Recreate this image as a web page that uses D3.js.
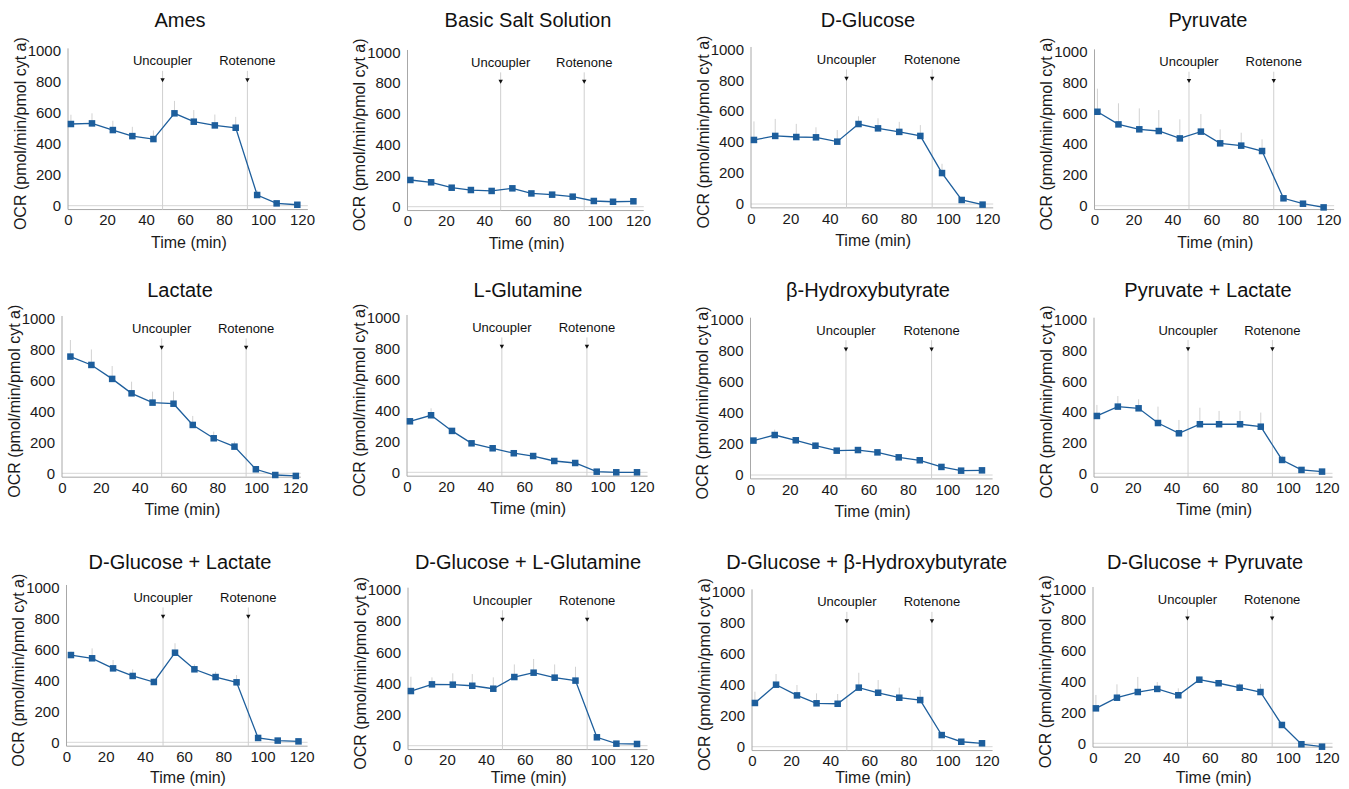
<!DOCTYPE html>
<html><head><meta charset="utf-8">
<script src="https://cdn.jsdelivr.net/npm/d3@7"></script>
<style>body{margin:0;background:#fff}svg{display:block}text{font-family:"Liberation Sans",Arial,sans-serif}</style>
</head><body><svg id="c" width="1349" height="789"></svg>
<script>
// ---------- data ----------
const titles = ["Ames","Basic Salt Solution","D-Glucose","Pyruvate","Lactate","L-Glutamine","β-Hydroxybutyrate","Pyruvate + Lactate","D-Glucose + Lactate","D-Glucose + L-Glutamine","D-Glucose + β-Hydroxybutyrate","D-Glucose + Pyruvate"];
const times = [1.5, 12.3, 23, 33, 43.8, 54.6, 64.5, 75.3, 86, 97, 107, 117.6];
const injections = [{label:"Uncoupler", t:48.5},{label:"Rotenone", t:92}];
const xTicks = [0,20,40,60,80,100,120];
const yTicks = [0,200,400,600,800,1000];

const amesOCR    = [527,531,488,449,430,596,542,518,503,69,15,6];
const amesErr    = [60,65,60,60,55,80,75,70,70,30,10,10];
const basicOCR   = [173,158,123,108,102,119,86,78,65,37,32,35];
const basicErr   = [15,10,10,10,10,10,10,8,8,5,5,5];
const glcOCR     = [414,440,433,431,403,517,489,466,440,200,26,-4];
const glcErr     = [120,110,85,65,75,50,65,65,70,60,20,10];
const pyrOCR     = [610,528,496,485,437,481,405,390,355,48,13,-11];
const pyrErr     = [150,137,136,136,124,114,91,84,76,20,10,5];
const lacOCR     = [753,699,609,516,456,449,312,226,172,26,-11,-17];
const lacErr     = [107,100,83,75,71,78,58,43,32,10,5,5];
const glnOCR     = [329,368,267,187,155,123,105,73,60,4,0,0];
const glnErr     = [20,45,15,10,10,10,10,8,8,5,5,5];
const bhbOCR     = [222,258,224,189,157,161,146,114,95,52,28,30];
const bhbErr     = [15,35,15,20,10,10,10,10,10,5,5,5];
const pyrLacOCR  = [374,435,424,328,261,320,320,320,304,87,22,11];
const pyrLacErr  = [72,69,59,107,87,108,87,87,92,30,10,5];
const glcLacOCR  = [563,542,477,428,389,578,471,421,387,28,11,6];
const glcLacErr  = [22,64,54,43,24,61,32,34,47,10,5,5];
const glcGlnOCR  = [351,394,392,385,366,441,469,437,418,54,13,11];
const glcGlnErr  = [92,45,73,75,73,81,88,85,89,15,5,5];
const glcBhbOCR  = [282,400,331,280,277,381,348,316,301,75,32,22];
const glcBhbErr  = [73,69,67,64,63,96,82,65,65,20,10,5];
const glcPyrOCR  = [227,296,333,353,312,413,390,361,333,119,-6,-22];
const glcPyrErr  = [87,87,98,45,45,20,20,29,52,20,5,5];

const seriesOCR = [amesOCR,basicOCR,glcOCR,pyrOCR,lacOCR,glnOCR,bhbOCR,pyrLacOCR,glcLacOCR,glcGlnOCR,glcBhbOCR,glcPyrOCR];
const seriesErr = [amesErr,basicErr,glcErr,pyrErr,lacErr,glnErr,bhbErr,pyrLacErr,glcLacErr,glcGlnErr,glcBhbErr,glcPyrErr];

// ---------- layout ----------
const X0    = [68,407.5,751,1094.5,62,407,750.5,1094,66.5,408,752,1093];
const X120  = [302,638,987.3,1328.3,295,641.7,986.7,1326.7,301.7,641.7,986.7,1326.7];
const Y0    = [205.7,206.7,204,205.7,473.3,472.3,475,473.3,742.3,745.7,746.7,743.3];
const Y1000 = [50.7,52.3,49.3,51.7,318.3,317.3,320,320,587.3,590,591.7,589.3];
const SHIFT = [0,0,0,0,5.5,0,0,0,1.5,0,0,0];
const TITLE_X = [180,528,868,1208,180,528,868,1208,180,528,866.7,1205];
const TITLE_Y = [20,20,20,20,289.5,289.5,289.5,289.5,562,562,562,562];

const BLUE = "#1d5e9c";
const FONT = '"Liberation Sans",Arial,sans-serif';
const svg = d3.select("#c");

titles.forEach((title, i) => {
  const x = d3.scaleLinear().domain([0,120]).range([X0[i], X120[i]]);
  const y = d3.scaleLinear().domain([0,1000]).range([Y0[i], Y1000[i]]);
  const xd = t => x(t) + SHIFT[i];
  const g = svg.append("g");
  const yBot = y(-25);
  const xEnd = x(123);

  // title
  g.append("text").attr("x", TITLE_X[i]).attr("y", TITLE_Y[i] + 7)
    .attr("text-anchor","middle").attr("font-size",20).attr("fill","#111").text(title);

  // zero gridline
  g.append("line").attr("x1", x(0)).attr("x2", xEnd).attr("y1", y(0)).attr("y2", y(0))
    .attr("stroke","#d6d6d6").attr("stroke-width",1);

  // axes lines
  g.append("line").attr("x1", x(0)).attr("x2", x(0)).attr("y1", yBot).attr("y2", y(1015))
    .attr("stroke","#a8a8a8").attr("stroke-width",1);
  g.append("line").attr("x1", x(0)).attr("x2", xEnd).attr("y1", yBot).attr("y2", yBot)
    .attr("stroke","#a8a8a8").attr("stroke-width",1);

  // y axis labels
  const ya = g.append("g").attr("transform", `translate(${x(0)},0)`)
    .call(d3.axisLeft(y).tickValues(yTicks).tickFormat(d3.format("d")).tickSize(0).tickPadding(7));
  ya.select(".domain").remove();
  ya.selectAll("text").attr("font-size",15).attr("fill","#1a1a1a").style("font-family",FONT);

  // x axis labels
  const xa = g.append("g").attr("transform", `translate(0,${yBot})`)
    .call(d3.axisBottom(x).tickValues(xTicks).tickFormat(d3.format("d")).tickSize(0).tickPadding(5));
  xa.select(".domain").remove();
  xa.selectAll("text").attr("font-size",15).attr("fill","#1a1a1a").style("font-family",FONT);

  // axis titles
  g.append("text").attr("x", x(62)).attr("y", Math.min(Y0[i] + 42, 783))
    .attr("text-anchor","middle").attr("font-size",16).attr("fill","#1a1a1a").text("Time (min)");
  g.append("text").attr("transform", `translate(${x(0)-48},${y(465)}) rotate(-90)`)
    .attr("text-anchor","middle").attr("dy","0.35em").attr("font-size",16).attr("fill","#1a1a1a")
    .text("OCR (pmol/min/pmol cyt a)");

  // injection markers
  injections.forEach(inj => {
    const ix = xd(inj.t);
    g.append("line").attr("x1", ix).attr("x2", ix).attr("y1", y(870)).attr("y2", yBot)
      .attr("stroke","#cfcfcf").attr("stroke-width",1);
    const ay = y(800);
    g.append("path").attr("d", `M${ix-2.2},${ay-3.5}L${ix+2.2},${ay-3.5}L${ix},${ay+0.5}Z`).attr("fill","#111");
    g.append("text").attr("x", ix).attr("y", y(905)).attr("text-anchor","middle")
      .attr("font-size",13).attr("fill","#111").text(inj.label);
  });

  const vals = seriesOCR[i], errs = seriesErr[i];
  // error bars (upper only)
  g.selectAll(".err").data(times).enter().append("line")
    .attr("x1", (t) => xd(t)).attr("x2", (t) => xd(t))
    .attr("y1", (t,j) => y(vals[j])).attr("y2", (t,j) => y(vals[j] + errs[j]))
    .attr("stroke","#d2d2d2").attr("stroke-width",1);

  // line
  const line = d3.line().x((d) => xd(d[0])).y((d) => y(d[1]));
  g.append("path").datum(times.map((t,j) => [t, vals[j]])).attr("d", line)
    .attr("fill","none").attr("stroke", BLUE).attr("stroke-width",1.3);

  // markers
  const s = 6.5;
  g.selectAll(".mk").data(times).enter().append("rect")
    .attr("x", (t) => xd(t) - s/2).attr("y", (t,j) => y(vals[j]) - s/2)
    .attr("width", s).attr("height", s).attr("fill", BLUE);
});
</script></body></html>
